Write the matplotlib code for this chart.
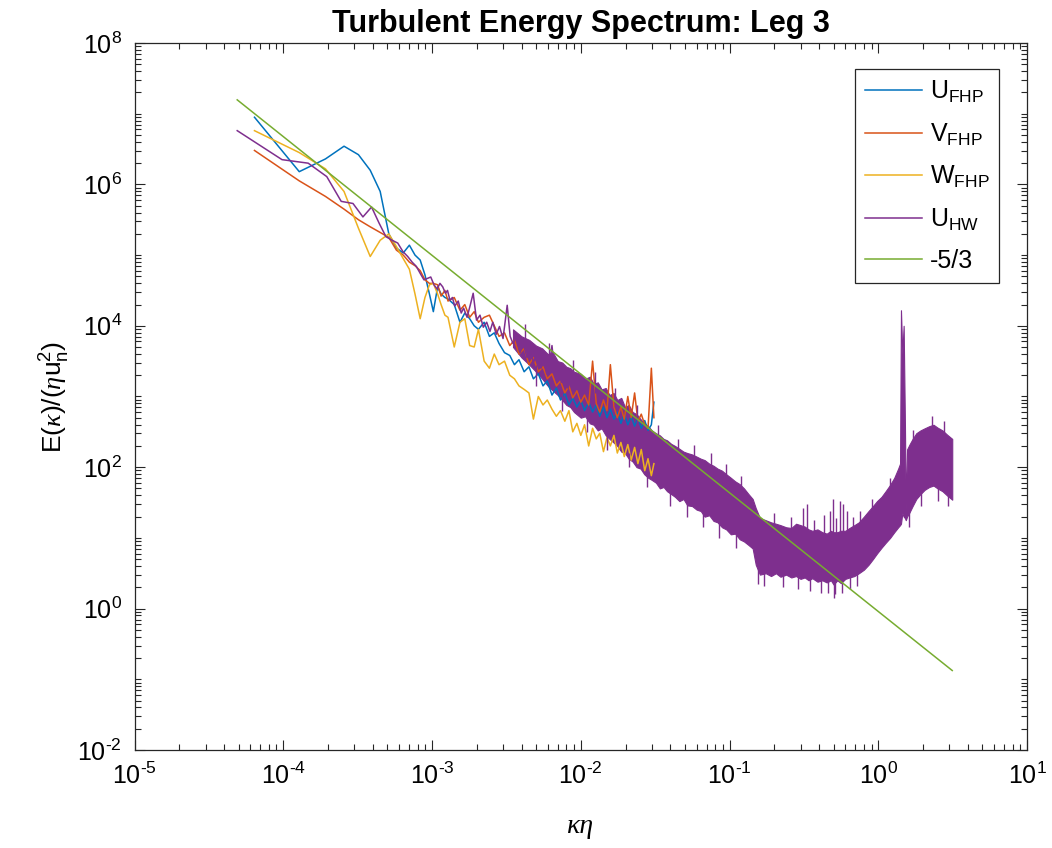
"""Turbulent energy spectrum, leg 3: FHP and hot-wire spectra with a -5/3 line"""

# import libraries / modules
# ========================================
import numpy as np
import matplotlib
matplotlib.use('Agg')
import matplotlib.pyplot as plt
from matplotlib.ticker import LogLocator, FixedLocator, NullFormatter, FuncFormatter

plt.rcParams['font.family'] = ['Liberation Sans', 'DejaVu Sans']
plt.rcParams['mathtext.fontset'] = 'custom'
plt.rcParams['mathtext.rm'] = 'Liberation Sans'
plt.rcParams['mathtext.it'] = 'Liberation Serif:italic'
plt.rcParams['mathtext.bf'] = 'Liberation Sans:bold'
plt.rcParams['axes.unicode_minus'] = False

# data (E values stored as log10)
# ========================================
# FHP probe: shared wavenumber grid
k_fhp = [6.4e-5, 1.28e-4, 1.92e-4, 2.56e-4, 3.2e-4, 3.84e-4, 4.48e-4, 5.12e-4,
         5.76e-4, 6.4e-4, 7.04e-4, 7.68e-4, 8.32e-4, 8.96e-4, 9.6e-4, 1.02e-3,
         1.09e-3, 1.15e-3, 1.22e-3, 1.28e-3, 1.41e-3, 1.54e-3, 1.66e-3, 1.79e-3,
         1.92e-3, 2.05e-3, 2.24e-3, 2.43e-3, 2.62e-3, 2.82e-3, 3.07e-3, 3.33e-3,
         3.58e-3, 3.84e-3, 4.16e-3, 4.48e-3, 4.8e-3, 5.18e-3, 5.57e-3, 5.95e-3,
         6.4e-3, 6.85e-3, 7.3e-3, 7.81e-3, 8.32e-3, 8.83e-3, 9.41e-3, 1.0e-2,
         1.06e-2, 1.13e-2, 1.2e-2, 1.27e-2, 1.34e-2, 1.42e-2, 1.5e-2, 1.58e-2,
         1.67e-2, 1.76e-2, 1.86e-2, 1.96e-2, 2.07e-2, 2.18e-2, 2.3e-2, 2.42e-2,
         2.55e-2, 2.69e-2, 2.83e-2, 2.98e-2, 3.1e-2]

u_fhp_log = [6.95, 6.18, 6.36, 6.54, 6.42, 6.20, 5.90, 5.30,
             5.10, 5.03, 5.14, 5.00, 4.93, 4.72, 4.45, 4.20,
             4.55, 4.45, 4.40, 4.38, 4.30, 4.05, 4.18, 4.10,
             4.00, 3.95, 4.05, 3.85, 3.90, 3.75, 3.62, 3.58,
             3.45, 3.52, 3.35, 3.42, 3.25, 3.32, 3.15, 3.22,
             3.02, 3.12, 2.95, 3.05, 2.88, 2.98, 2.85, 2.95,
             2.80, 2.92, 2.78, 2.88, 2.72, 2.85, 2.70, 2.82,
             2.68, 2.78, 2.62, 2.75, 2.60, 2.72, 2.58, 2.70,
             2.55, 2.66, 2.52, 2.60, 2.92]

v_fhp_log = [6.48, 6.05, 5.83, 5.65, 5.50, 5.40, 5.32, 5.25,
             5.07, 5.00, 4.90, 4.85, 4.78, 4.65, 4.60, 4.60,
             4.58, 4.42, 4.50, 4.35, 4.40, 4.22, 4.30, 4.12,
             4.20, 4.05, 4.12, 4.15, 4.00, 3.85, 3.90, 3.72,
             3.80, 3.60, 3.68, 3.45, 3.55, 3.35, 3.42, 3.25,
             3.32, 3.15, 3.22, 3.05, 3.15, 2.98, 3.08, 2.92,
             3.02, 2.88, 3.50, 2.90, 2.78, 2.95, 2.80, 3.45,
             2.85, 2.70, 2.85, 2.68, 3.00, 2.70, 3.05, 2.65,
             2.75, 2.60, 2.55, 3.40, 2.70]

w_fhp_log = [6.76, 6.45, 6.22, 5.90, 5.38, 4.98, 5.21, 5.30,
             5.12, 4.95, 4.80, 4.45, 4.10, 4.40, 4.58, 4.60,
             4.45, 4.30, 4.15, 4.12, 3.70, 4.05, 4.10, 3.72,
             3.70, 3.95, 3.50, 3.40, 3.60, 3.45, 3.50, 3.30,
             3.25, 3.15, 3.10, 3.05, 2.68, 3.00, 2.88, 2.95,
             2.82, 2.72, 2.80, 2.65, 2.80, 2.50, 2.62, 2.45,
             2.60, 2.30, 2.55, 2.40, 2.48, 2.22, 2.42, 2.30,
             2.45, 2.20, 2.35, 2.15, 2.32, 2.10, 2.28, 2.05,
             2.25, 1.95, 2.12, 1.88, 2.05]

# hot wire: low wavenumber part as a line
k_hw = [4.9e-5, 9.8e-5, 1.47e-4, 1.96e-4, 2.45e-4, 2.94e-4, 3.43e-4, 3.92e-4,
        4.41e-4, 4.9e-4, 5.39e-4, 5.88e-4, 6.37e-4, 6.86e-4, 7.35e-4, 7.84e-4,
        8.33e-4, 8.82e-4, 9.31e-4, 9.8e-4, 1.03e-3, 1.08e-3, 1.13e-3, 1.18e-3,
        1.23e-3, 1.27e-3, 1.32e-3, 1.37e-3, 1.42e-3, 1.5e-3, 1.57e-3, 1.63e-3,
        1.72e-3, 1.81e-3, 1.89e-3, 1.99e-3, 2.1e-3, 2.21e-3, 2.33e-3, 2.45e-3,
        2.56e-3, 2.7e-3, 2.84e-3, 3.0e-3, 3.2e-3, 3.35e-3, 3.5e-3, 3.7e-3,
        3.9e-3, 4.1e-3, 4.35e-3, 4.55e-3, 4.8e-3, 5.1e-3, 5.4e-3, 5.65e-3,
        5.9e-3, 6.2e-3, 6.4e-3, 6.7e-3, 7.0e-3, 7.4e-3, 7.8e-3, 8.2e-3,
        8.6e-3, 9.0e-3, 9.5e-3, 1.0e-2]

u_hw_log = [6.76, 6.35, 6.30, 6.11, 5.76, 5.73, 5.54, 5.68,
            5.45, 5.26, 5.21, 5.17, 5.05, 4.98, 4.90, 4.84,
            4.74, 4.65, 4.67, 4.69, 4.58, 4.52, 4.60, 4.55,
            4.46, 4.50, 4.36, 4.40, 4.28, 4.35, 4.18, 4.25,
            4.12, 4.30, 4.46, 4.08, 4.15, 3.98, 4.05, 3.92,
            4.05, 3.88, 3.99, 3.82, 4.29, 3.85, 3.75, 3.85,
            3.62, 3.75, 3.55, 3.70, 3.48, 3.62, 3.40, 3.55,
            3.32, 3.50, 3.72, 3.30, 3.42, 3.20, 3.35, 3.12,
            3.28, 3.05, 3.20, 2.98]

# hot wire: high wavenumber part, upper and lower edge of the noisy band
k_band = [3.5e-3, 4.0e-3, 4.5e-3, 5.0e-3, 5.5e-3, 6.0e-3, 6.5e-3, 7.0e-3,
          7.5e-3, 8.0e-3, 8.5e-3, 9.0e-3, 1.0e-2, 1.07e-2, 1.15e-2, 1.22e-2,
          1.3e-2, 1.38e-2, 1.47e-2, 1.56e-2, 1.66e-2, 1.76e-2, 1.87e-2, 1.98e-2,
          2.1e-2, 2.23e-2, 2.37e-2, 2.52e-2, 2.67e-2, 2.84e-2, 3.0e-2, 3.2e-2,
          3.4e-2, 3.6e-2, 3.8e-2, 4.05e-2, 4.3e-2, 4.6e-2, 4.9e-2, 5.2e-2,
          5.6e-2, 6.0e-2, 6.4e-2, 6.8e-2, 7.3e-2, 7.8e-2, 8.3e-2, 8.9e-2,
          9.5e-2, 0.102, 0.109, 0.117, 0.125, 0.134, 0.143, 0.150,
          0.16, 0.175, 0.19, 0.205, 0.22, 0.24, 0.26, 0.28,
          0.30, 0.32, 0.34, 0.36, 0.39, 0.42, 0.45, 0.48,
          0.50, 0.53, 0.56, 0.60, 0.64, 0.69, 0.74, 0.80,
          0.86, 0.92, 0.98, 1.05, 1.12, 1.20, 1.28, 1.36,
          1.40, 1.42, 1.45, 1.48, 1.51, 1.53, 1.56, 1.62,
          1.70, 1.80, 1.92, 2.05, 2.2, 2.35, 2.5, 2.7,
          2.9, 3.14]

band_hi_log = [3.95, 3.85, 3.80, 3.72, 3.68, 3.60, 3.62, 3.50,
               3.48, 3.42, 3.40, 3.35, 3.32, 3.25, 3.28, 3.18,
               3.20, 3.10, 3.12, 3.02, 3.05, 2.95, 2.98, 2.85,
               2.88, 2.78, 2.75, 2.68, 2.62, 2.58, 2.52, 2.48,
               2.45, 2.40, 2.38, 2.33, 2.30, 2.26, 2.22, 2.20,
               2.18, 2.15, 2.12, 2.10, 2.05, 2.02, 1.98, 1.95,
               1.90, 1.85, 1.80, 1.76, 1.70, 1.62, 1.55, 1.42,
               1.28, 1.25, 1.22, 1.20, 1.18, 1.15, 1.14, 1.20,
               1.18, 1.16, 1.12, 1.10, 1.12, 1.08, 1.06, 1.10,
               1.08, 1.08, 1.10, 1.10, 1.14, 1.18, 1.22, 1.30,
               1.38, 1.45, 1.52, 1.58, 1.66, 1.75, 1.85, 1.98,
               2.05, 4.22, 3.60, 4.00, 2.60, 1.40, 2.25, 2.32,
               2.40, 2.48, 2.52, 2.55, 2.58, 2.60, 2.56, 2.52,
               2.46, 2.40]

band_lo_log = [3.70, 3.55, 3.45, 3.35, 3.25, 3.15, 3.08, 3.02,
               2.95, 2.88, 2.85, 2.78, 2.70, 2.72, 2.62, 2.60,
               2.52, 2.55, 2.45, 2.40, 2.35, 2.30, 2.22, 2.20,
               2.12, 2.08, 2.00, 1.98, 1.90, 1.85, 1.82, 1.78,
               1.70, 1.72, 1.66, 1.62, 1.58, 1.52, 1.55, 1.46,
               1.45, 1.40, 1.38, 1.30, 1.32, 1.24, 1.22, 1.15,
               1.12, 1.05, 1.06, 0.98, 0.95, 0.90, 0.85, 0.62,
               0.48, 0.50, 0.46, 0.50, 0.45, 0.48, 0.44, 0.46,
               0.42, 0.44, 0.40, 0.43, 0.38, 0.40, 0.37, 0.40,
               0.34, 0.40, 0.36, 0.42, 0.44, 0.46, 0.50, 0.55,
               0.62, 0.70, 0.78, 0.86, 0.93, 1.00, 1.08, 1.15,
               1.18, 1.20, 1.35, 1.30, 1.28, 1.25, 1.30, 1.36,
               1.45, 1.55, 1.62, 1.68, 1.72, 1.74, 1.70, 1.66,
               1.60, 1.54]

# hot wire: single spikes sticking out of the band (k, from, to)
spike_k = [0.0042, 0.0061, 0.0089, 0.0125, 0.017, 0.024, 0.033, 0.045,
           0.058, 0.075, 0.095, 0.12, 0.2, 0.26, 0.31, 0.33,
           0.37, 0.43, 0.47, 0.495, 0.52, 0.55, 0.58, 0.62,
           0.68, 0.75, 0.9, 1.2, 1.7, 2.3, 2.75,
           0.005, 0.0075, 0.011, 0.015, 0.021, 0.028, 0.04, 0.052,
           0.066, 0.085, 0.11, 0.155, 0.17, 0.23, 0.29, 0.35,
           0.41, 0.46, 0.5, 0.51, 0.57, 0.65, 0.72, 1.6,
           1.95, 2.5, 2.95]
spike_lo_log = [3.70, 3.45, 3.25, 3.05, 2.85, 2.60, 2.35, 2.15,
                2.05, 1.90, 1.80, 1.60, 1.10, 1.05, 1.05, 1.05,
                1.00, 1.00, 1.00, 1.00, 0.95, 1.00, 1.00, 1.05,
                1.10, 1.15, 1.35, 1.65, 2.30, 2.50, 2.45,
                3.15, 2.80, 2.50, 2.25, 2.00, 1.72, 1.45, 1.30,
                1.15, 1.00, 0.85, 0.35, 0.32, 0.30, 0.28, 0.25,
                0.22, 0.22, 0.15, 0.20, 0.22, 0.28, 0.32, 1.15,
                1.45, 1.52, 1.45]
spike_hi_log = [4.02, 3.75, 3.52, 3.35, 3.12, 2.88, 2.60, 2.40,
                2.32, 2.20, 2.05, 1.88, 1.35, 1.30, 1.42, 1.48,
                1.25, 1.32, 1.38, 1.55, 1.28, 1.52, 1.48, 1.38,
                1.30, 1.38, 1.55, 1.85, 2.52, 2.72, 2.66,
                3.45, 3.05, 2.75, 2.50, 2.20, 1.95, 1.70, 1.55,
                1.40, 1.30, 1.10, 0.65, 0.60, 0.55, 0.55, 0.52,
                0.50, 0.50, 0.45, 0.45, 0.50, 0.55, 0.60, 1.45,
                1.75, 1.80, 1.70]

# -5/3 reference line end points
k_ref = [4.9e-5, 3.14]
e_ref = [1.57e7, 0.133]

labels = ['$\\mathregular{U_{FHP}}$', '$\\mathregular{V_{FHP}}$',
          '$\\mathregular{W_{FHP}}$', '$\\mathregular{U_{HW}}$', '-5/3']
colors = ['#0072BD', '#D95319', '#EDB120', '#7E2F8E', '#77AC30']


def decade_label(v, pos):
    # 10 with a plain hyphen in the exponent, as in the reference
    exp = int(round(np.log10(v)))
    if exp < 0:
        return '$\\mathregular{10^{\\text{-}%d}}$' % (-exp)
    return '$\\mathregular{10^{%d}}$' % exp


# Plot
# ========================================
fig = plt.figure(figsize=(10.52, 8.48), dpi=100)
ax = fig.add_axes([0.1279, 0.1156, 0.8484, 0.8337])

lw = 1.1
ax.plot(k_fhp, 10 ** np.array(u_fhp_log), color=colors[0], lw=lw, label=labels[0])
ax.plot(k_fhp, 10 ** np.array(v_fhp_log), color=colors[1], lw=lw, label=labels[1])
ax.plot(k_fhp, 10 ** np.array(w_fhp_log), color=colors[2], lw=lw, label=labels[2])
ax.plot(k_hw, 10 ** np.array(u_hw_log), color=colors[3], lw=lw, label=labels[3])
ax.fill_between(k_band, 10 ** np.array(band_lo_log), 10 ** np.array(band_hi_log),
                color=colors[3], lw=0.8, edgecolor=colors[3])
ax.vlines(spike_k, 10 ** np.array(spike_lo_log), 10 ** np.array(spike_hi_log),
          color=colors[3], lw=1.0)
ax.plot(k_ref, e_ref, color=colors[4], lw=lw, label=labels[4])

ax.set_xscale('log')
ax.set_yscale('log')
ax.set_xlim(1e-5, 10)
ax.set_ylim(1e-2, 1e8)

ax.xaxis.set_major_locator(LogLocator(base=10, numticks=12))
ax.xaxis.set_minor_locator(LogLocator(base=10, subs=np.arange(2, 10), numticks=12))
ax.yaxis.set_major_locator(FixedLocator([1e-2, 1e0, 1e2, 1e4, 1e6, 1e8]))
ax.yaxis.set_minor_locator(LogLocator(base=10, subs=np.arange(1, 10), numticks=30))
ax.xaxis.set_major_formatter(FuncFormatter(decade_label))
ax.yaxis.set_major_formatter(FuncFormatter(decade_label))
ax.xaxis.set_minor_formatter(NullFormatter())
ax.yaxis.set_minor_formatter(NullFormatter())

ax.tick_params(which='both', direction='in', top=True, right=True,
               colors='#262626', labelcolor='black', width=0.8)
ax.tick_params(which='major', length=7, labelsize=18, pad=9)
ax.tick_params(which='minor', length=4)
for s in ax.spines.values():
    s.set_color('#262626')
    s.set_linewidth(0.9)

ax.set_title('Turbulent Energy Spectrum: Leg 3', fontsize=22, fontweight='bold', pad=8)
ax.set_xlabel('κη', family=['Liberation Serif', 'DejaVu Serif'], style='italic',
              fontsize=20, labelpad=18)
ax.set_ylabel('$\\mathregular{E(}\\kappa\\mathregular{)/(}\\eta\\mathregular{u_n^2)}$',
              fontsize=19, labelpad=4)

leg = ax.legend(loc='upper right', bbox_to_anchor=(0.969, 0.963), borderaxespad=0,
                fontsize=18, handlelength=2.3, handletextpad=0.3, labelspacing=0.65,
                fancybox=False, framealpha=1, edgecolor='#262626', borderpad=0.4)
leg.get_frame().set_linewidth(0.9)

plt.savefig('out.png', dpi=100)
